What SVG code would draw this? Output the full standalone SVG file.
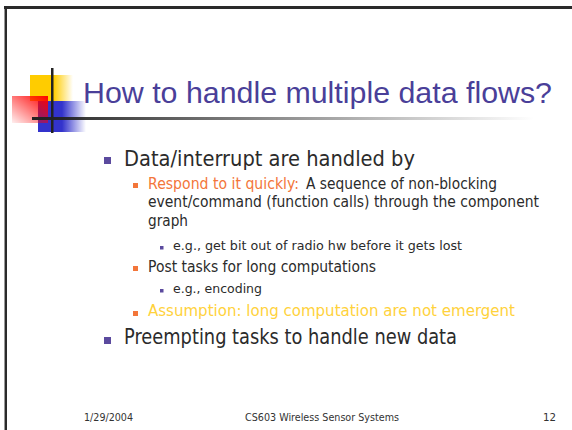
<svg xmlns="http://www.w3.org/2000/svg" width="572" height="430" viewBox="0 0 572 430">
<defs>
<style>
text{font-family:"DejaVu Sans","Liberation Sans",sans-serif;fill:#2b2b2b}
.t{font-family:"Liberation Sans","DejaVu Sans",sans-serif;font-size:30px;fill:#4a3f99}
.l1{font-size:22px}
.l2{font-size:15px}
.l3{font-size:13px}
.f{font-size:11px;fill:#333}
.b1{fill:#5b4a9e}
.b2{fill:#f3763a}
</style>
<linearGradient id="gy" x1="0" y1="0" x2="1" y2="0">
<stop offset="0" stop-color="#ffcc00"/><stop offset="0.55" stop-color="#ffcc00"/><stop offset="1" stop-color="#ffcc00" stop-opacity="0"/>
</linearGradient>
<linearGradient id="gb" x1="0" y1="0" x2="1" y2="0">
<stop offset="0" stop-color="#3333cc"/><stop offset="0.5" stop-color="#3333cc"/><stop offset="1" stop-color="#3333cc" stop-opacity="0"/>
</linearGradient>
<linearGradient id="gr" x1="1" y1="0" x2="0" y2="1">
<stop offset="0" stop-color="#ff0000"/><stop offset="1" stop-color="#ff0000" stop-opacity="0.06"/>
</linearGradient>
<linearGradient id="gl" x1="0" y1="0" x2="1" y2="0">
<stop offset="0" stop-color="#222"/><stop offset="1" stop-color="#222" stop-opacity="0"/>
</linearGradient>
</defs>
<rect width="572" height="430" fill="#fff"/>
<g id="frame">
<rect x="4" y="6" width="3" height="424" fill="#2a2a2a"/>
<rect x="4" y="6" width="1" height="424" fill="#999"/>
<rect x="4" y="6" width="568" height="3" fill="#2a2a2a"/>
</g>
<g id="logo">
<rect x="30" y="75" width="43" height="26" fill="url(#gy)"/>
<rect x="38" y="101" width="48" height="31" fill="url(#gb)"/>
<rect x="12" y="96" width="36" height="27" fill="url(#gr)"/>
<rect x="51" y="68" width="2.5" height="65" fill="#222"/>
<rect x="32" y="117" width="502" height="3" fill="url(#gl)"/>
</g>
<g id="title">
<text class="t" x="83" y="103" textLength="469" lengthAdjust="spacingAndGlyphs">How to handle multiple data flows?</text>
</g>
<g id="body">
<rect class="b1" x="104" y="157" width="7" height="7"/>
<text class="l1" x="124" y="166" textLength="291" lengthAdjust="spacingAndGlyphs">Data/interrupt are handled by</text>
<rect class="b2" x="133" y="183" width="5" height="5"/>
<text class="l2" x="148" y="189" textLength="151" lengthAdjust="spacingAndGlyphs" style="fill:#f3763a">Respond to it quickly:</text>
<text class="l2" x="306" y="189" textLength="191" lengthAdjust="spacingAndGlyphs">A sequence of non-blocking</text>
<text class="l2" x="148" y="207" textLength="391" lengthAdjust="spacingAndGlyphs">event/command (function calls) through the component</text>
<text class="l2" x="148" y="226" textLength="40" lengthAdjust="spacingAndGlyphs">graph</text>
<rect class="b1" x="160" y="246" width="3.5" height="3.5"/>
<text class="l3" x="173" y="250" textLength="289" lengthAdjust="spacingAndGlyphs">e.g., get bit out of radio hw before it gets lost</text>
<rect class="b2" x="133" y="266" width="5" height="5"/>
<text class="l2" x="148" y="272" textLength="228" lengthAdjust="spacingAndGlyphs">Post tasks for long computations</text>
<rect class="b1" x="160" y="289" width="3.5" height="3.5"/>
<text class="l3" x="173" y="293" textLength="89" lengthAdjust="spacingAndGlyphs">e.g., encoding</text>
<rect class="b2" x="133" y="311" width="5" height="5"/>
<text class="l2" x="148" y="316" textLength="367" lengthAdjust="spacingAndGlyphs" style="fill:#ffd23c">Assumption: long computation are not emergent</text>
<rect class="b1" x="104" y="337" width="7" height="7"/>
<text class="l1" x="124" y="344" textLength="333" lengthAdjust="spacingAndGlyphs">Preempting tasks to handle new data</text>
</g>
<g id="footer">
<text class="f" x="84" y="421" textLength="49" lengthAdjust="spacingAndGlyphs">1/29/2004</text>
<text class="f" x="245" y="421" textLength="154" lengthAdjust="spacingAndGlyphs">CS603 Wireless Sensor Systems</text>
<text class="f" x="543" y="421" textLength="13" lengthAdjust="spacingAndGlyphs">12</text>
</g>
</svg>
